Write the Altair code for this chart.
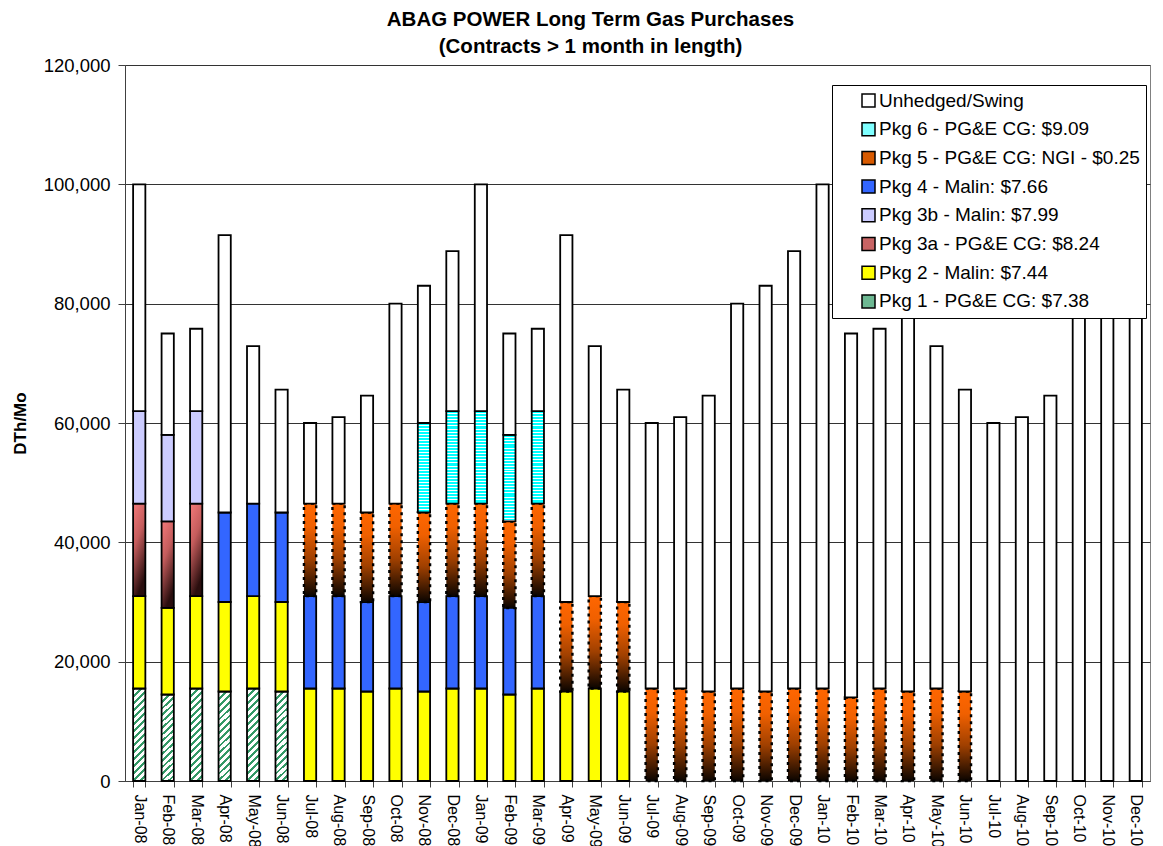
import altair as alt
import pandas as pd

months = ["Jan-08", "Feb-08", "Mar-08", "Apr-08", "May-08", "Jun-08",
          "Jul-08", "Aug-08", "Sep-08", "Oct-08", "Nov-08", "Dec-08",
          "Jan-09", "Feb-09", "Mar-09", "Apr-09", "May-09", "Jun-09",
          "Jul-09", "Aug-09", "Sep-09", "Oct-09", "Nov-09", "Dec-09",
          "Jan-10", "Feb-10", "Mar-10", "Apr-10", "May-10", "Jun-10",
          "Jul-10", "Aug-10", "Sep-10", "Oct-10", "Nov-10", "Dec-10"]

pkg1 = [15500, 14500, 15500, 15000, 15500, 15000] + [0] * 30
pkg2 = [15500, 14500, 15500, 15000, 15500, 15000,
        15500, 15500, 15000, 15500, 15000, 15500,
        15500, 14500, 15500, 15000, 15500, 15000] + [0] * 18
pkg3a = [15500, 14500, 15500] + [0] * 33
pkg3b = [15500, 14500, 15500] + [0] * 33
pkg4 = [0, 0, 0, 15000, 15500, 15000,
        15500, 15500, 15000, 15500, 15000, 15500,
        15500, 14500, 15500] + [0] * 21
pkg5 = [0] * 6 + [15500, 15500, 15000, 15500, 15000, 15500,
                  15500, 14500, 15500, 15000, 15500, 15000,
                  15500, 15500, 15000, 15500, 15000, 15500,
                  15500, 14000, 15500, 15000, 15500, 15000] + [0] * 6
pkg6 = [0] * 10 + [15000, 15500, 15500, 14500, 15500] + [0] * 21
unhedged = [38000, 17000, 13800, 46500, 26400, 20600,
            13500, 14500, 19600, 33500, 23000, 26800,
            38000, 17000, 13800, 61500, 41900, 35600,
            44500, 45500, 49600, 64500, 68000, 73300,
            84500, 61000, 60300, 76500, 57400, 50600,
            60000, 61000, 64600, 80000, 83000, 88800]

series_names = ["Pkg 1 - PG&E CG: $7.38", "Pkg 2 - Malin: $7.44",
                "Pkg 3a - PG&E CG: $8.24", "Pkg 3b - Malin: $7.99",
                "Pkg 4 - Malin: $7.66", "Pkg 5 - PG&E CG: NGI - $0.25",
                "Pkg 6 - PG&E CG: $9.09", "Unhedged/Swing"]
series_values = [pkg1, pkg2, pkg3a, pkg3b, pkg4, pkg5, pkg6, unhedged]
legend_colors = ["#6DB892", "#FFFF00", "#C86464", "#CCCCFF",
                 "#3366FF", "#D85A00", "#7FFFFF", "#FFFFFF"]

rows = []
for order, (name, vals) in enumerate(zip(series_names, series_values)):
    for m, v in zip(months, vals):
        if v > 0:
            rows.append({"month": m, "series": name, "order": order, "value": v})
df = pd.DataFrame(rows)

# fills
def stripes(n, frac, c1, c2):
    stops = []
    for k in range(n):
        a = k / n
        b = a + frac / n
        e = (k + 1) / n
        stops += [{"offset": a, "color": c1}, {"offset": b, "color": c1},
                  {"offset": b, "color": c2}, {"offset": e, "color": c2}]
    return stops

hatch = {"gradient": "linear", "x1": 0, "y1": 0, "x2": 0.148, "y2": 1.113,
         "stops": stripes(15, 0.4, "#339966", "#FFFFFF")}
cyan_stripes = {"gradient": "linear", "x1": 0, "y1": 0, "x2": 0, "y2": 1,
                "stops": stripes(30, 0.67, "#00FFFF", "#FFFFFF")}
red_grad = {"gradient": "linear", "x1": 0, "y1": 0, "x2": 0.35, "y2": 1,
            "stops": [{"offset": 0, "color": "#F47A7A"},
                      {"offset": 0.45, "color": "#C45C5C"},
                      {"offset": 1, "color": "#2A0E0E"}]}
orange_grad = {"gradient": "linear", "x1": 0, "y1": 0, "x2": 0, "y2": 1,
               "stops": [{"offset": 0, "color": "#FF6600"},
                         {"offset": 0.25, "color": "#F06000"},
                         {"offset": 0.6, "color": "#A04000"},
                         {"offset": 1, "color": "#0A0400"}]}
fills = [hatch, "#FFFF00", red_grad, "#CCCCFF", "#3366FF", orange_grad,
         cyan_stripes, "#FFFFFF"]

x_enc = alt.X("month:N", sort=months,
              scale=alt.Scale(paddingInner=0.57, paddingOuter=0.285),
              axis=alt.Axis(title=None, labelAngle=90, labelFontSize=16,
                            tickBand="extent", tickSize=6, labelPadding=7,
                            grid=False, domainColor="#404040",
                            tickColor="#404040", labelColor="black"))
y_axis = alt.Axis(title="DTh/Mo", values=[0, 20000, 40000, 60000, 80000, 100000, 120000],
                  format=",d", labelFontSize=18.5, tickSize=7, labelPadding=8,
                  grid=True, gridColor="#333333", gridWidth=1,
                  domainColor="#404040", tickColor="#404040", labelColor="black",
                  titleFontSize=17, titleFontWeight="bold", titlePadding=14,
                  titleColor="black")
y_scale = alt.Scale(domain=[0, 120000], nice=False)

base = alt.Chart(df).transform_stack(
    stack="value", groupby=["month"], as_=["y0", "y1"],
    sort=[alt.SortField("order", order="ascending")])

layers = []
for name, fill in zip(series_names, fills):
    mark_kwargs = dict(fill=fill, stroke="black", strokeWidth=1.8)
    if name.startswith("Pkg 5"):
        mark_kwargs.update(strokeDash=[3, 4], strokeWidth=2.4)
    layers.append(
        base.transform_filter(alt.datum.series == name)
        .mark_bar(**mark_kwargs)
        .encode(x=x_enc,
                y=alt.Y("y0:Q", scale=y_scale, axis=y_axis),
                y2="y1:Q")
    )

legend_layer = base.mark_bar(strokeWidth=0).encode(
    x=x_enc,
    y=alt.Y("y0:Q", scale=y_scale, axis=y_axis),
    y2="y0:Q",
    color=alt.Color("series:N",
                    scale=alt.Scale(domain=series_names[::-1], range=legend_colors[::-1]),
                    legend=alt.Legend(title=None, orient="none", legendX=707, legendY=20,
                                      symbolType="square", symbolSize=169,
                                      symbolStrokeColor="black", symbolStrokeWidth=1.5,
                                      symbolOpacity=1, labelFontSize=19, labelLimit=600,
                                      labelColor="black", rowPadding=8.7, padding=6,
                                      symbolOffset=21, labelOffset=1,
                                      strokeColor="black", fillColor="white"))
)

chart = alt.layer(*layers, legend_layer).properties(
    width=1025, height=716,
    autosize=alt.AutoSizeParams(type="none"),
    padding={"left": 117, "top": 57, "right": 5, "bottom": 68},
    title=alt.TitleParams(text=["ABAG POWER Long Term Gas Purchases",
                                "(Contracts > 1 month in length)"],
                          fontSize=20.5, fontWeight="bold", anchor="middle",
                          dx=-47, dy=9, offset=8, lineHeight=27, color="black")
).configure(
    font="Liberation Sans"
).configure_view(
    stroke="#808080", strokeWidth=1
)

chart.save("out.html", embed_options={"renderer": "svg", "actions": False})
